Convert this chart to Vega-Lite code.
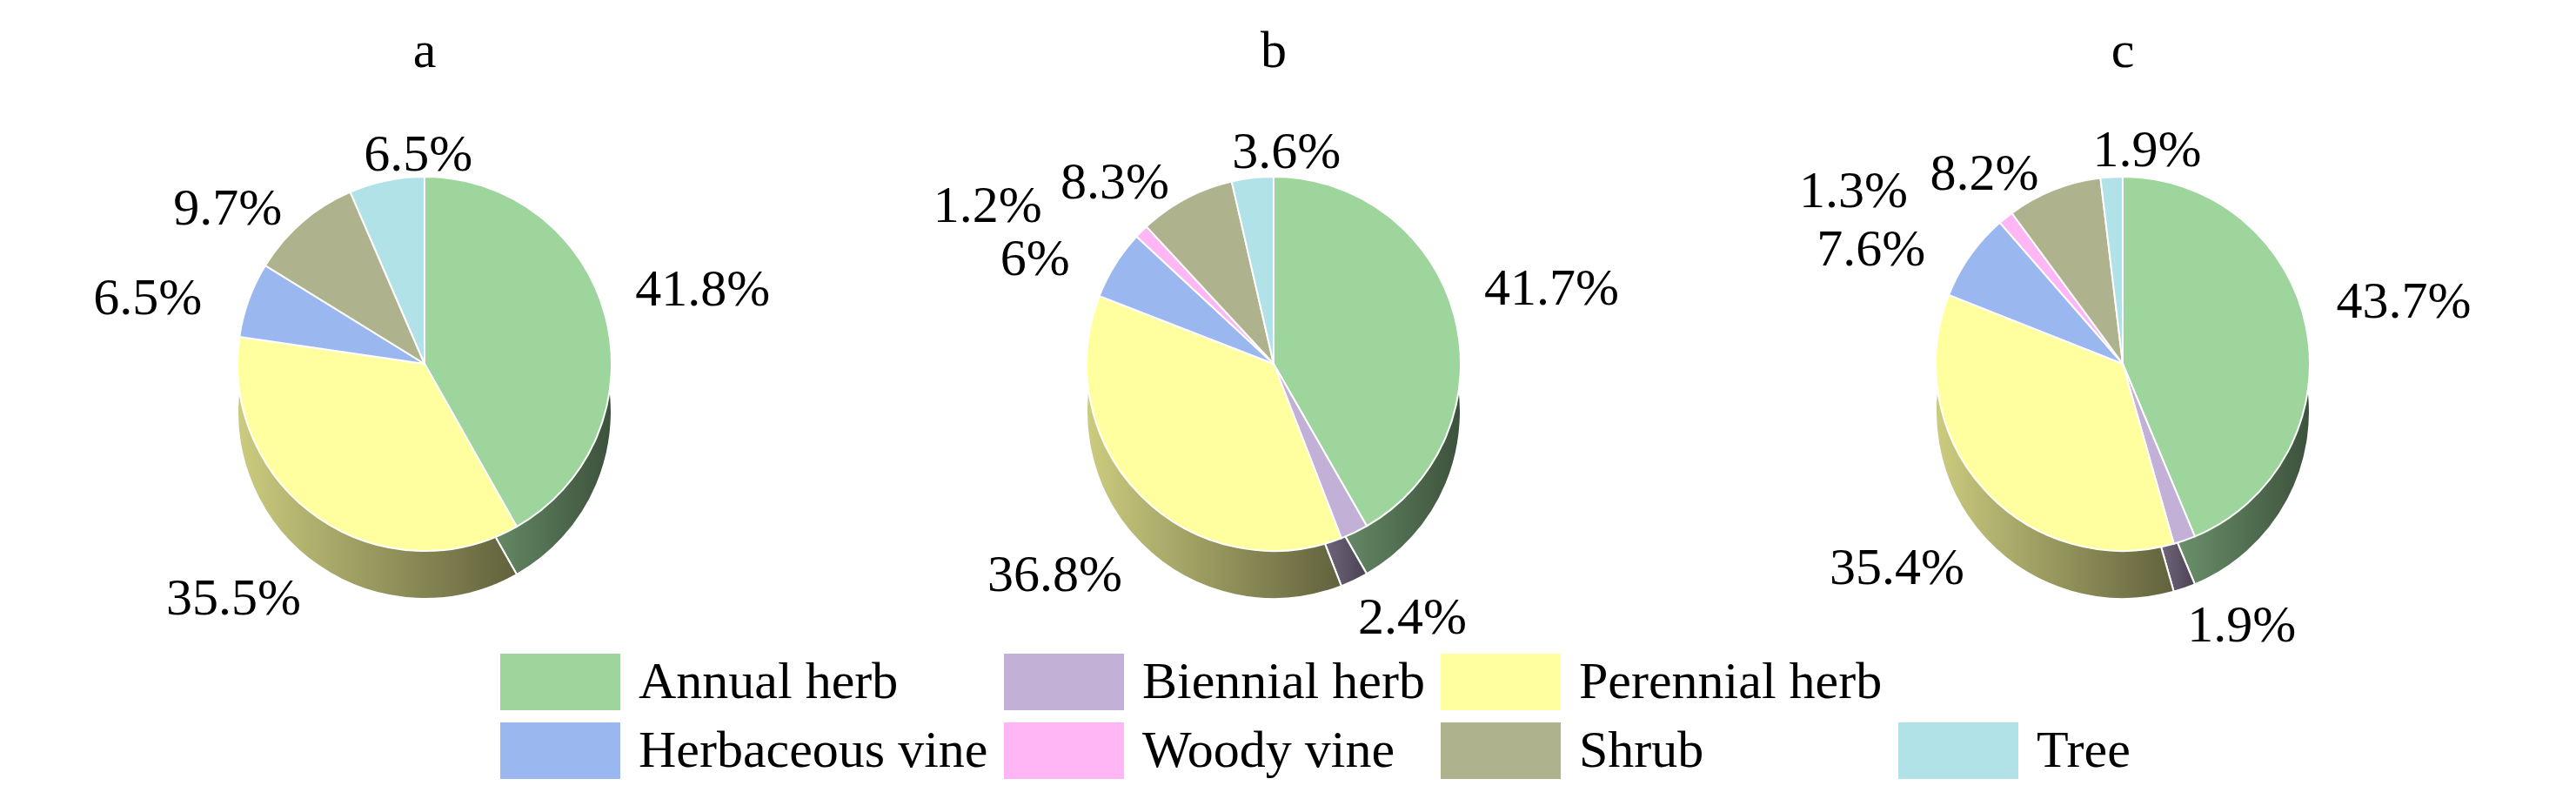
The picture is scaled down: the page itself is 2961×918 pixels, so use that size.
{
  "$schema": "https://vega.github.io/schema/vega-lite/v6.json",
  "padding": {"left": 0, "right": 0, "top": 29, "bottom": 0},
  "background": "white",
  "config": {
    "view": {"stroke": null},
    "font": "Liberation Serif",
    "legend": {
      "orient": "none", "legendX": 575, "legendY": 613, "direction": "horizontal", "columns": 4,
      "symbolType": "M-1,-1H3.246V1H-1Z", "symbolSize": 4225, "symbolStrokeWidth": 0, "symbolOpacity": 1,
      "labelFont": "Liberation Serif", "labelFontSize": 60, "labelOffset": 94, "labelLimit": 1000,
      "rowPadding": 14, "columnPadding": 18, "labelColor": "black", "labelBaseline": "middle"
    }
  },
  "data": {"values": [
    {"panel": "a", "type": "Annual herb", "idx": 1, "value": 41.8, "label": "41.8%"},
    {"panel": "a", "type": "Perennial herb", "idx": 3, "value": 35.5, "label": "35.5%"},
    {"panel": "a", "type": "Herbaceous vine", "idx": 4, "value": 6.5, "label": "6.5%"},
    {"panel": "a", "type": "Shrub", "idx": 6, "value": 9.7, "label": "9.7%"},
    {"panel": "a", "type": "Tree", "idx": 7, "value": 6.5, "label": "6.5%"},
    {"panel": "b", "type": "Annual herb", "idx": 1, "value": 41.7, "label": "41.7%"},
    {"panel": "b", "type": "Biennial herb", "idx": 2, "value": 2.4, "label": "2.4%"},
    {"panel": "b", "type": "Perennial herb", "idx": 3, "value": 36.8, "label": "36.8%"},
    {"panel": "b", "type": "Herbaceous vine", "idx": 4, "value": 6, "label": "6%"},
    {"panel": "b", "type": "Woody vine", "idx": 5, "value": 1.2, "label": "1.2%"},
    {"panel": "b", "type": "Shrub", "idx": 6, "value": 8.3, "label": "8.3%"},
    {"panel": "b", "type": "Tree", "idx": 7, "value": 3.6, "label": "3.6%"},
    {"panel": "c", "type": "Annual herb", "idx": 1, "value": 43.7, "label": "43.7%"},
    {"panel": "c", "type": "Biennial herb", "idx": 2, "value": 1.9, "label": "1.9%"},
    {"panel": "c", "type": "Perennial herb", "idx": 3, "value": 35.4, "label": "35.4%"},
    {"panel": "c", "type": "Herbaceous vine", "idx": 4, "value": 7.6, "label": "7.6%"},
    {"panel": "c", "type": "Woody vine", "idx": 5, "value": 1.3, "label": "1.3%"},
    {"panel": "c", "type": "Shrub", "idx": 6, "value": 8.2, "label": "8.2%"},
    {"panel": "c", "type": "Tree", "idx": 7, "value": 1.9, "label": "1.9%"}
  ]},
  "facet": {"column": {"field": "panel", "type": "nominal",
    "header": {"title": null, "labelFontSize": 60, "labelFont": "Liberation Serif", "labelColor": "black", "labelPadding": 38}}},
  "spacing": 0,
  "spec": {
    "width": 976,
    "height": 560,
    "encoding": {
      "theta": {"field": "value", "type": "quantitative", "stack": true},
      "order": {"field": "idx", "type": "quantitative"}
    },
    "layer": [
      {"mark": {"type": "arc", "radius": 215, "yOffset": 55, "stroke": "white", "strokeWidth": 2},
       "encoding": {"color": {"field": "type", "type": "nominal",
         "scale": {"domain": ["Annual herb", "Biennial herb", "Perennial herb", "_blank", "Herbaceous vine", "Woody vine", "Shrub", "Tree"],
                   "range": ["#9dd59d", "#c3b0d6", "#ffff9f", "#ffffff", "#9ab7ef", "#ffb6f5", "#afb38d", "#b0e2e8"]},
         "legend": {"title": null, "labelExpr": "datum.label === '_blank' ? '' : datum.label"}}}},
      {"mark": {"type": "arc", "radius": 215, "yOffset": 55, "stroke": "white", "strokeWidth": 2,
         "fill": {"gradient": "linear", "x1": 0, "y1": 0, "x2": 1, "y2": 0,
           "stops": [{"offset": 0, "color": "rgba(0,0,0,0.2)"}, {"offset": 1, "color": "rgba(0,0,0,0.62)"}]}},
       "encoding": {"detail": {"field": "type", "type": "nominal"}}},
      {"mark": {"type": "arc", "radius": 215, "stroke": "white", "strokeWidth": 2},
       "encoding": {"color": {"field": "type", "type": "nominal"}}},
      {"mark": {"type": "text", "radius": 235, "align": "left", "baseline": "middle", "dx": 15, "dy": -25, "fontSize": 60, "color": "black"},
       "encoding": {"detail": {"field": "type", "type": "nominal"},
         "text": {"condition": {"test": "datum.type === 'Annual herb'", "field": "label", "type": "nominal"}, "value": ""}}},
      {"mark": {"type": "text", "radius": 225, "align": "left", "baseline": "top", "dy": 60, "fontSize": 60, "color": "black"},
       "encoding": {"detail": {"field": "type", "type": "nominal"},
         "text": {"condition": {"test": "datum.type === 'Biennial herb'", "field": "label", "type": "nominal"}, "value": ""}}},
      {"mark": {"type": "text", "radius": 225, "align": "right", "baseline": "top", "dx": -15, "dy": 55, "fontSize": 60, "color": "black"},
       "encoding": {"detail": {"field": "type", "type": "nominal"},
         "text": {"condition": {"test": "datum.type === 'Perennial herb'", "field": "label", "type": "nominal"}, "value": ""}}},
      {"mark": {"type": "text", "radius": 235, "align": "right", "baseline": "middle", "dx": -35, "dy": 5, "fontSize": 60, "color": "black"},
       "encoding": {"detail": {"field": "type", "type": "nominal"},
         "text": {"condition": {"test": "datum.type === 'Herbaceous vine'", "field": "label", "type": "nominal"}, "value": ""}}},
      {"mark": {"type": "text", "radius": 235, "align": "right", "baseline": "middle", "dx": -10, "fontSize": 60, "color": "black"},
       "encoding": {"detail": {"field": "type", "type": "nominal"},
         "text": {"condition": {"test": "datum.type === 'Shrub'", "field": "label", "type": "nominal"}, "value": ""}}},
      {"mark": {"type": "text", "radius": 235, "align": "right", "baseline": "middle", "dx": -100, "dy": -15, "fontSize": 60, "color": "black"},
       "encoding": {"detail": {"field": "type", "type": "nominal"},
         "text": {"condition": {"test": "datum.type === 'Woody vine'", "field": "label", "type": "nominal"}, "value": ""}}},
      {"mark": {"type": "text", "radius": 245, "align": "left", "baseline": "middle", "dx": -20, "fontSize": 60, "color": "black"},
       "encoding": {"detail": {"field": "type", "type": "nominal"},
         "text": {"condition": {"test": "datum.type === 'Tree'", "field": "label", "type": "nominal"}, "value": ""}}}
    ]
  }
}
